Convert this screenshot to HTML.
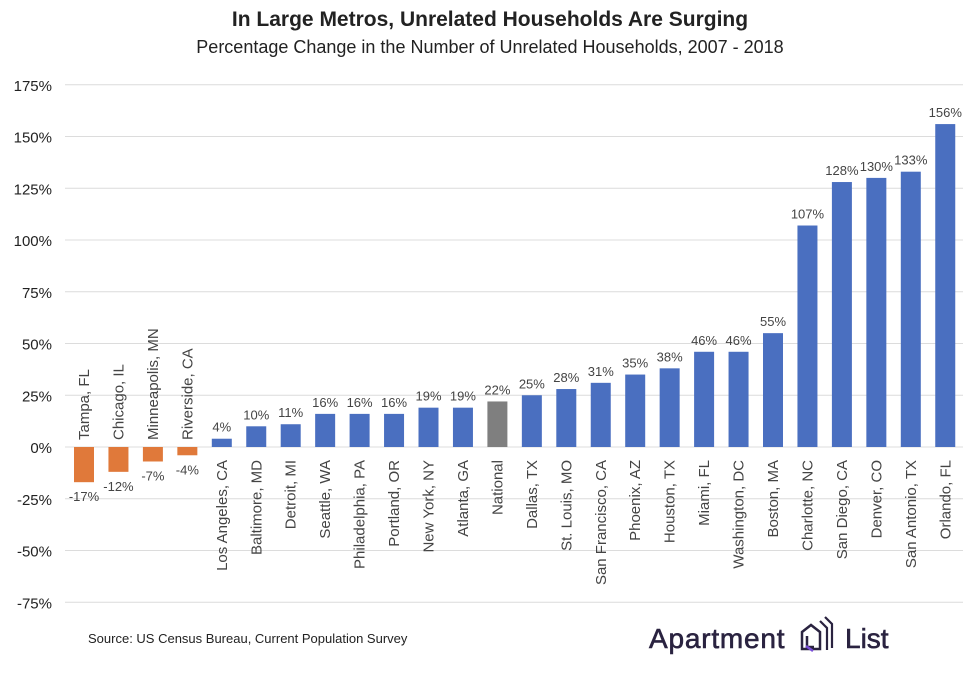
<!DOCTYPE html>
<html><head><meta charset="utf-8"><style>
body{margin:0;background:#fff;font-family:"Liberation Sans",sans-serif;}
</style></head><body>
<svg id="chart" width="980" height="672" xmlns="http://www.w3.org/2000/svg">
<text x="490" y="26" text-anchor="middle" font-size="21" font-weight="bold" fill="#222">In Large Metros, Unrelated Households Are Surging</text>
<text x="490" y="53" text-anchor="middle" font-size="18" fill="#222">Percentage Change in the Number of Unrelated Households, 2007 - 2018</text>
<g id="grid"></g><g id="bars"></g>
<text x="88" y="643" font-size="13" fill="#222">Source: US Census Bureau, Current Population Survey</text>
<g>
<text x="649" y="648" font-size="28" font-weight="500" letter-spacing="0.8" fill="#2a2340" stroke="#2a2340" stroke-width="0.6">Apartment</text>
<path d="M802 632 l9 -7 l9 7 v17 h-18z M807 636 v11 h7" fill="none" stroke="#2a2340" stroke-width="2.5"/>
<path d="M806 646 l7 5" stroke="#7b4fd8" stroke-width="2.5"/>
<path d="M820 621 l7 7 v22 M825 617 l7 7 v24" fill="none" stroke="#2a2340" stroke-width="2.2"/>
<text x="845" y="648" font-size="28" font-weight="500" fill="#2a2340" stroke="#2a2340" stroke-width="0.6">List</text>
</g>
</svg>
<script>
const categories=["Tampa, FL","Chicago, IL","Minneapolis, MN","Riverside, CA","Los Angeles, CA","Baltimore, MD","Detroit, MI","Seattle, WA","Philadelphia, PA","Portland, OR","New York, NY","Atlanta, GA","National","Dallas, TX","St. Louis, MO","San Francisco, CA","Phoenix, AZ","Houston, TX","Miami, FL","Washington, DC","Boston, MA","Charlotte, NC","San Diego, CA","Denver, CO","San Antonio, TX","Orlando, FL"];
const values=[-17,-12,-7,-4,4,10,11,16,16,16,19,19,22,25,28,31,35,38,46,46,55,107,128,130,133,156];
const yTicks=[175,150,125,100,75,50,25,0,-25,-50,-75];
const NS="http://www.w3.org/2000/svg";
const y=v=>447-v*2.07;
const x=i=>84+i*34.45;
function mk(tag,attrs,parent){const e=document.createElementNS(NS,tag);for(const k in attrs)e.setAttribute(k,attrs[k]);parent.appendChild(e);return e;}
const grid=document.getElementById('grid'),bars=document.getElementById('bars');
yTicks.forEach(t=>{
 const l=mk('line',{x1:65,x2:963,y1:y(t),y2:y(t),stroke:'#dcdcdc','stroke-width':1},grid);
 
 
 const tx=mk('text',{x:52,y:y(t)+6,'text-anchor':'end','font-size':15,fill:'#222'},grid);
 tx.textContent=t+'%';
 
 
});
categories.forEach((c,i)=>{
 const v=values[i];
 const col=c==="National"?'#7f7f7f':(v<0?'#e0793a':'#4a6fc0');
 const r=mk('rect',{x:x(i)-10,width:20,y:Math.min(y(v),y(0)),height:Math.abs(y(v)-y(0)),fill:col},bars);
 
 
 const vl=mk('text',{x:x(i),y:v>=0?y(v)-7:y(v)+19,'text-anchor':'middle','font-size':13,fill:'#444'},bars);
 vl.textContent=v+'%';
 
 
 const cx=x(i)+5;
 let lab;
 if(v>=0){lab=mk('text',{x:0,y:0,'text-anchor':'end','font-size':15,fill:'#444',transform:`translate(${cx},460) rotate(-90)`},bars);}
 else{lab=mk('text',{x:0,y:0,'text-anchor':'start','font-size':15,fill:'#444',transform:`translate(${cx},440) rotate(-90)`},bars);}
 lab.textContent=c;
 
 
});
</script>
</body></html>
